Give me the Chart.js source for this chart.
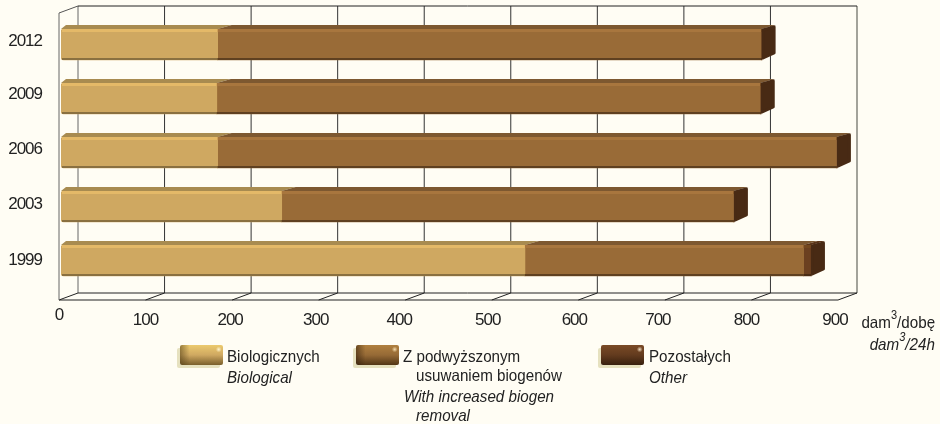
<!DOCTYPE html>
<html lang="pl">
<head>
<meta charset="utf-8">
<title>Oczyszczalnie</title>
<script src="https://cdn.jsdelivr.net/npm/chart.js@4"></script>
<style>
    html, body { margin: 0; padding: 0; background: #fffdf4; }
    #wrap { position: relative; width: 940px; height: 424px; overflow: hidden;
        font-family: "Liberation Sans", Arial, sans-serif; font-size: 16.5px; color: #222; }
    canvas { position: absolute; left: 0; top: 0; }
    .t { position: absolute; white-space: nowrap; line-height: 18px; height: 18px;
        transform: scaleX(.92); transform-origin: left center; }
    .r { transform-origin: right center; }
    .i { font-style: italic; }
    .sw { position: absolute; width: 43px; height: 20px; top: 345px; border-radius: 2px;
        box-shadow: -3px 3px 0 #e6e1bf; }
    sup { font-size: 12px; line-height: 0; position: relative; top: -3px; vertical-align: super; }
</style>
</head>
<body>
<div id="wrap">
    <canvas id="chart" width="940" height="424"></canvas>

    <div class="sw" style="left:180px;background:radial-gradient(circle at 90% 22%,#fff5d0 0,transparent 7%),linear-gradient(90deg,rgba(80,60,20,.55) 0,transparent 22%),linear-gradient(180deg,#ecca6e 0%,#cfa861 50%,#7a5f2c 100%)"></div>
    <div class="t" style="left:227px;top:347px">Biologicznych</div>
    <div class="t i" style="left:227px;top:368px">Biological</div>

    <div class="sw" style="left:356px;background:radial-gradient(circle at 90% 22%,#f5dcae 0,transparent 7%),linear-gradient(90deg,rgba(50,30,10,.55) 0,transparent 22%),linear-gradient(180deg,#b0803f 0%,#966a36 50%,#523616 100%)"></div>
    <div class="t" style="left:403px;top:347px">Z podwyższonym</div>
    <div class="t" style="left:416px;top:366px">usuwaniem biogenów</div>
    <div class="t i" style="left:404px;top:387px">With increased biogen</div>
    <div class="t i" style="left:416px;top:406px">removal</div>

    <div class="sw" style="left:601px;background:radial-gradient(circle at 90% 22%,#f0dcc0 0,transparent 7%),linear-gradient(180deg,#7a4a26 0%,#633b1e 50%,#38200e 100%)"></div>
    <div class="t" style="left:649px;top:347px">Pozostałych</div>
    <div class="t i" style="left:649px;top:368px">Other</div>

    <div class="t r" style="right:5px;top:313px">dam<sup>3</sup>/dobę</div>
    <div class="t i r" style="right:5px;top:335px">dam<sup>3</sup>/24h</div>
</div>

<script>
    // Data (dam3 per 24h)
    const YEARS = ['2012', '2009', '2006', '2003', '1999'];
    const BIOLOGICAL = [181, 180, 181, 255, 536];
    const INCREASED_REMOVAL = [628, 628, 715, 522, 322];
    const OTHER = [1, 1, 1, 1, 9];
    const X_TICKS = [0, 100, 200, 300, 400, 500, 600, 700, 800, 900];

    // Hand placed labels in the original, offsets from the tick position
    const X_LABEL_SHIFT = [[-2, -5], [-2, 0], [-4, 0], [-5, 0], [-8, 0], [-6, 0], [-6, 0], [-9, 0], [-7, 0], [-5, 0]];
    const Y_LABEL_SHIFT = [-3, -4, -3, -2, 0];

    // 3D look
    const FRONT_DX = -2;
    const BACK_DX = 17;
    const BACK_TOP = 6, BACK_BOTTOM = 293, FRONT_TOP = 13, FRONT_BOTTOM = 300;
    const BAR_DX = 14, BAR_DY = 4;

    const FACES = [
        { front: '#cfa861', top: '#a88b50', light: '#e4b968', dark: '#8a7040' },
        { front: '#996b37', top: '#7d5830', light: '#a8763e', dark: '#5f4020' },
        { front: '#6b4020', top: '#5a3418', light: '#74481f', dark: '#4a2c14' }
    ];
    const CAP_COLOR = '#482a14';
    const TICK_FONT = { family: '"Liberation Sans"', size: 17 };

    function line(ctx, x1, y1, x2, y2, color, width) {
        ctx.strokeStyle = color;
        ctx.lineWidth = width;
        ctx.beginPath();
        ctx.moveTo(x1, y1);
        ctx.lineTo(x2, y2);
        ctx.stroke();
    }

    const wallsPlugin = {
        id: 'walls',
        afterLayout(chart) {
            // nudge the tick labels to where the original has them
            chart.scales.x.getLabelItems().forEach((item, i) => {
                item.options.translation[0] += X_LABEL_SHIFT[i][0];
                item.options.translation[1] += X_LABEL_SHIFT[i][1];
            });
            chart.scales.y.getLabelItems().forEach((item, i) => {
                item.options.translation[1] += Y_LABEL_SHIFT[i];
            });
        },
        beforeDraw(chart) {
            // original tick labels are condensed
            chart.ctx.letterSpacing = '-1px';
        },
        beforeDatasetsDraw(chart) {
            const ctx = chart.ctx;
            const x = chart.scales.x;
            const left = x.getPixelForValue(0);
            const right = x.getPixelForValue(900);
            ctx.save();
            // back wall grid and floor
            X_TICKS.forEach(v => {
                const p = x.getPixelForValue(v);
                const gray = v === 0 ? '#666' : (v === 900 ? '#8c8c84' : '#333');
                line(ctx, p + BACK_DX, BACK_TOP, p + BACK_DX, BACK_BOTTOM, gray, v === 900 ? 1.6 : 1);
                line(ctx, p + FRONT_DX, FRONT_BOTTOM, p + BACK_DX, BACK_BOTTOM, '#222', 1);
            });
            line(ctx, left + BACK_DX, BACK_TOP, right + BACK_DX, BACK_TOP, '#222', 1);
            line(ctx, left + BACK_DX, BACK_BOTTOM, right + BACK_DX, BACK_BOTTOM, '#222', 1);
            line(ctx, left + FRONT_DX, FRONT_BOTTOM, right + FRONT_DX, FRONT_BOTTOM, '#222', 1.2);
            // left wall
            line(ctx, left + FRONT_DX, FRONT_TOP, left + FRONT_DX, FRONT_BOTTOM, '#666', 1);
            line(ctx, left + FRONT_DX, FRONT_TOP, left + BACK_DX, BACK_TOP, '#555', 1);
            ctx.restore();
        },
        afterDatasetsDraw(chart) {
            const ctx = chart.ctx;
            ctx.save();
            chart.data.datasets.forEach((ds, d) => {
                const face = FACES[d];
                chart.getDatasetMeta(d).data.forEach(bar => {
                    const x0 = bar.base, x1 = bar.x;
                    const top = bar.y - bar.height / 2;
                    const bottom = bar.y + bar.height / 2;
                    const lean = d === 0 ? 5 : BAR_DX;
                    // top face
                    ctx.fillStyle = face.top;
                    ctx.beginPath();
                    ctx.moveTo(x0, top);
                    ctx.lineTo(x0 + lean, top - BAR_DY);
                    ctx.lineTo(x1 + BAR_DX, top - BAR_DY);
                    ctx.lineTo(x1, top);
                    ctx.closePath();
                    ctx.fill();
                    // highlight and shadow on the front
                    ctx.fillStyle = face.light;
                    ctx.fillRect(x0 + (d === 0 ? 1 : 0), top, x1 - x0, 3);
                    ctx.fillStyle = face.dark;
                    ctx.fillRect(x0 + (d === 0 ? 1 : 0), bottom - 2, x1 - x0, 2);
                });
            });
            // end cap of the whole bar
            chart.getDatasetMeta(2).data.forEach(bar => {
                const top = bar.y - bar.height / 2;
                const bottom = bar.y + bar.height / 2;
                ctx.fillStyle = CAP_COLOR;
                ctx.strokeStyle = CAP_COLOR;
                ctx.lineWidth = 3;
                ctx.lineJoin = 'round';
                ctx.beginPath();
                ctx.moveTo(bar.x + 1, top + 1);
                ctx.lineTo(bar.x + BAR_DX - 2, top - BAR_DY + 2);
                ctx.lineTo(bar.x + BAR_DX - 2, bottom - BAR_DY - 3);
                ctx.lineTo(bar.x + 1, bottom - 2);
                ctx.closePath();
                ctx.fill();
                ctx.stroke();
            });
            ctx.restore();
        }
    };

    const makeDataset = (label, data, i) => ({
        label,
        data,
        backgroundColor: FACES[i].front,
        borderWidth: 0,
        barThickness: 31,
        borderRadius: i === 0 ? { topLeft: 3, bottomLeft: 3 } : 0,
        borderSkipped: false
    });

    new Chart(document.getElementById('chart'), {
        type: 'bar',
        data: {
            labels: YEARS,
            datasets: [
                makeDataset('Biologicznych', BIOLOGICAL, 0),
                makeDataset('Z podwyższonym usuwaniem biogenów', INCREASED_REMOVAL, 1),
                makeDataset('Pozostałych', OTHER, 2)
            ]
        },
        options: {
            indexAxis: 'y',
            responsive: false,
            animation: false,
            layout: { padding: { left: 0, top: 17.5, right: 100, bottom: 0 } },
            plugins: { legend: { display: false }, tooltip: { enabled: false } },
            scales: {
                x: {
                    stacked: true,
                    min: 0,
                    max: 900,
                    afterBuildTicks: scale => { scale.ticks = X_TICKS.map(value => ({ value })); },
                    afterFit: scale => { scale.height = 136.5; scale.paddingLeft = 0; scale.paddingRight = 0; },
                    border: { display: false },
                    grid: { display: false },
                    ticks: {
                        color: '#222',
                        font: TICK_FONT,
                        padding: 15,
                        maxRotation: 0,
                        autoSkip: false
                    }
                },
                y: {
                    stacked: true,
                    afterFit: scale => { scale.width = 61; scale.paddingTop = 0; scale.paddingBottom = 0; },
                    border: { display: false },
                    grid: { display: false },
                    ticks: {
                        color: '#222',
                        font: TICK_FONT,
                        padding: 11
                    }
                }
            }
        },
        plugins: [wallsPlugin]
    });
</script>
</body>
</html>
